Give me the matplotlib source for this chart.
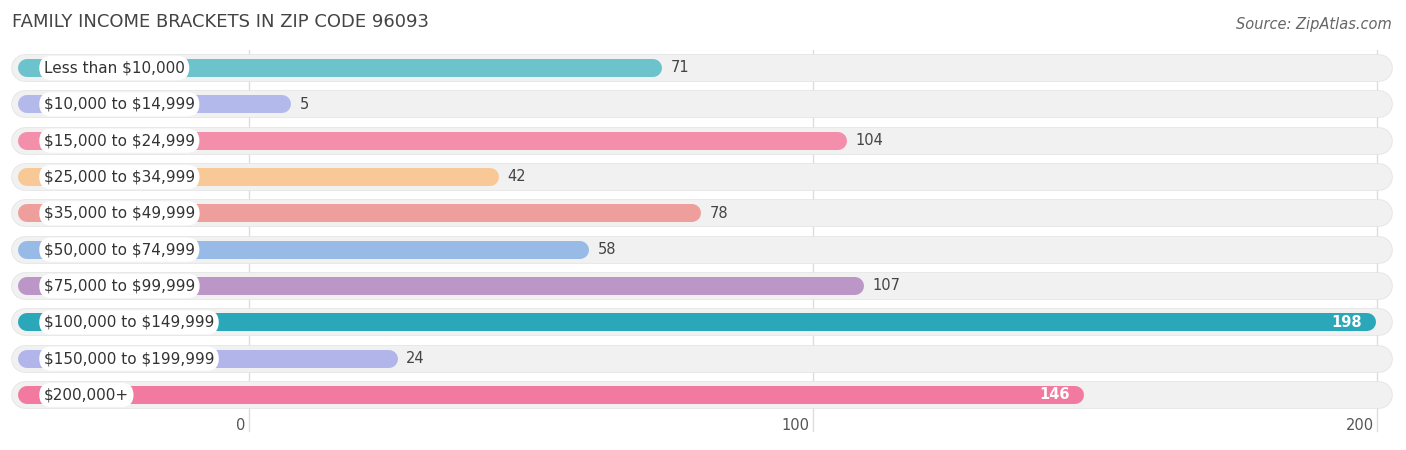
import matplotlib
matplotlib.use("Agg")
import matplotlib.pyplot as plt

categories = ["Less than $10,000", "$10,000 to $14,999", "$15,000 to $24,999", "$25,000 to $34,999",
              "$35,000 to $49,999", "$50,000 to $74,999", "$75,000 to $99,999", "$100,000 to $149,999",
              "$150,000 to $199,999", "$200,000+"]
values = [71, 5, 104, 42, 78, 58, 107, 198, 24, 146]
colors = ["#6cc3cb", "#b3b9ea", "#f38fab", "#f9c897", "#ee9f9b", "#97bbe6", "#bb96c6", "#2aa7b8", "#b1b5ea", "#f27aa0"]
ticks = [0, 100, 200]

W, H = 1406, 450
fig = plt.figure(figsize=(W/100, H/100), dpi=100)
ax = fig.add_axes([0, 0, 1, 1])
ppu = 5.62
x0px = 263
ax.set_xlim(-x0px/ppu, (W-x0px)/ppu)
sp = 36.33
ax.set_ylim((H-68)/sp, -68/sp)
ax.axis("off")

for t in ticks:
    gx = t*1.0035 - 2.5
    ax.plot([gx, gx], [-0.5, 10.0], color="#dddddd", lw=1, zorder=0)
    ax.text(gx - 0.6, 9.85, str(t), ha="right", va="center", fontsize=10.5, color="#555555")

left = -43.6
bg_l, bg_rr = -44.7, 200.9
bg_r = 13/ppu
bar_r = 9/ppu
for i, (c, v, col) in enumerate(zip(categories, values, colors)):
    ax.plot([bg_l+bg_r, bg_rr-bg_r], [i, i], color="#f1f1f1", lw=26*0.72, solid_capstyle="round", zorder=1)
    ax.plot([bg_l+bg_r, bg_rr-bg_r], [i, i], color="#e4e4e4", lw=26*0.72+1.2, solid_capstyle="round", zorder=0.9)
    ax.plot([left+bar_r, v-bar_r], [i, i], color=col, lw=18*0.72, solid_capstyle="round", zorder=2)
    ax.text(-39, i, c.replace("$", r"\$"), ha="left", va="center", fontsize=11, color="#333333", zorder=4,
            bbox=dict(boxstyle="round,pad=0.3,rounding_size=0.8", fc="white", ec="none"))
    if v > 130:
        ax.text(v-2.5, i, str(v), ha="right", va="center", fontsize=10.5, color="white", fontweight="bold", zorder=4)
    else:
        ax.text(v+1.5, i, str(v), ha="left", va="center", fontsize=10.5, color="#444444", zorder=4)

fig.text(12/W, 1-22/H, "FAMILY INCOME BRACKETS IN ZIP CODE 96093", ha="left", va="center", fontsize=13, color="#444444")
fig.text(1392/W, 1-24/H, "Source: ZipAtlas.com", ha="right", va="center", fontsize=10.5, color="#666666", style="italic")
fig.savefig("out.png", dpi=100)
